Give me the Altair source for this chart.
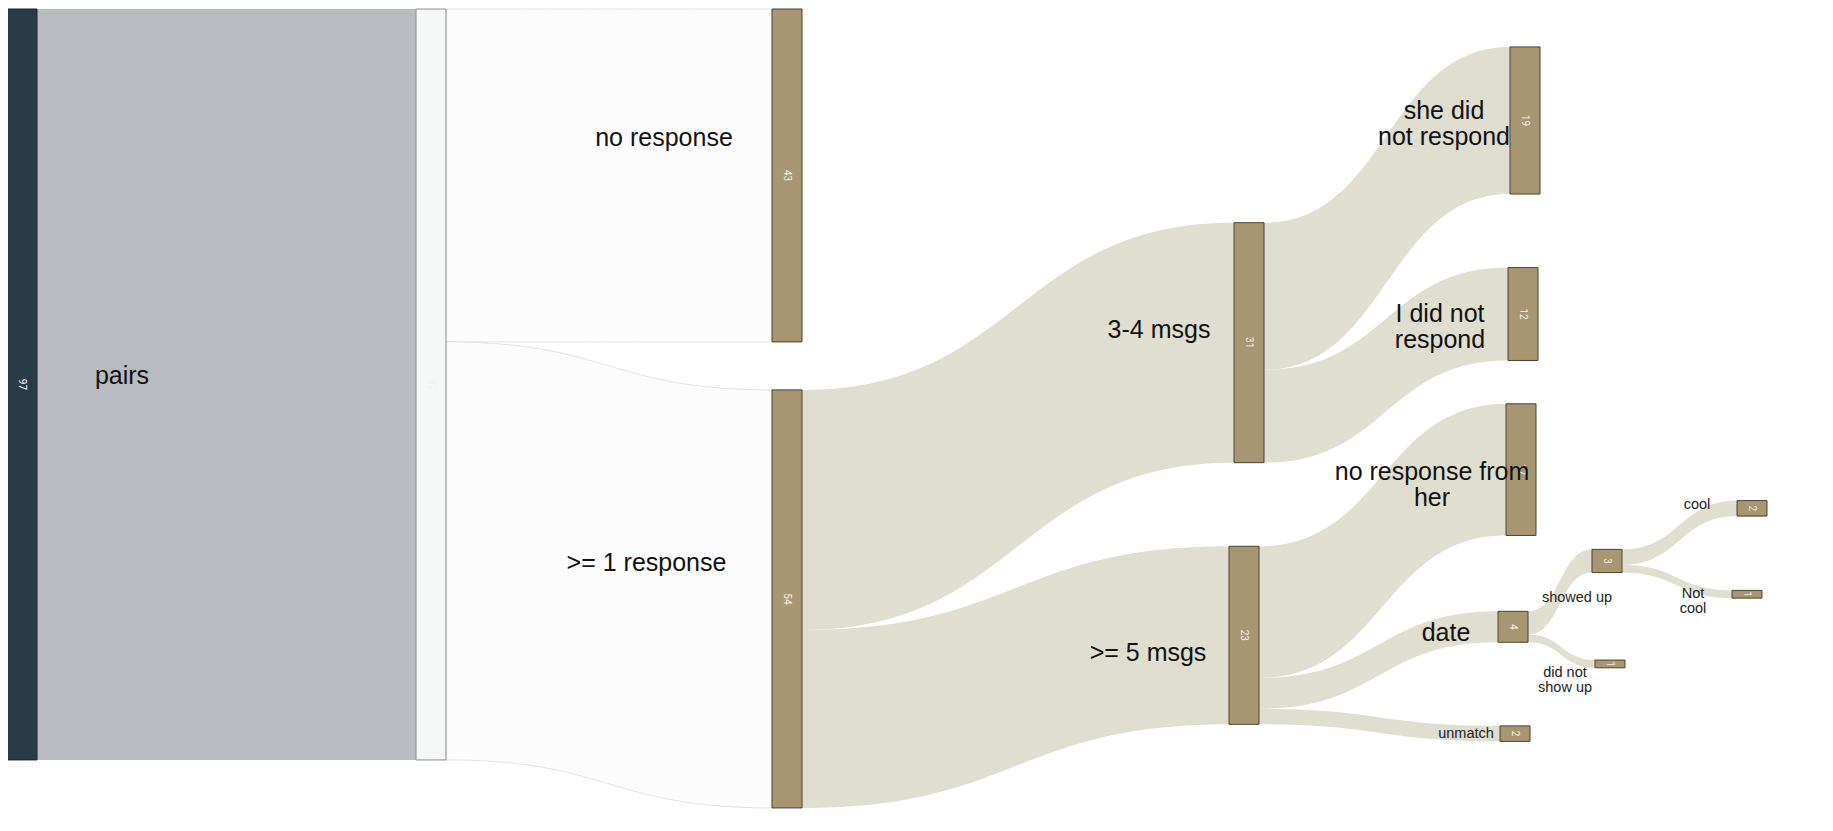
import altair as alt
import pandas as pd
import numpy as np

# ---------------- data ----------------
node_names = ["pairs", "matched", "no response", ">= 1 response", "3-4 msgs", ">= 5 msgs",
              "she did not respond", "I did not respond", "no response from her",
              "date", "unmatch", "showed up", "did not show up", "cool", "Not cool"]
node_labels = ["pairs", "", "no response", ">= 1 response", "3-4 msgs", ">= 5 msgs",
               "she did\nnot respond", "I did not\nrespond", "no response from\nher",
               "date", "unmatch", "showed up", "did not\nshow up", "cool", "Not\ncool"]

link_source = ["pairs", "matched", "matched", ">= 1 response", ">= 1 response",
               "3-4 msgs", "3-4 msgs", ">= 5 msgs", ">= 5 msgs", ">= 5 msgs",
               "date", "date", "showed up", "showed up"]
link_target = ["matched", "no response", ">= 1 response", "3-4 msgs", ">= 5 msgs",
               "she did not respond", "I did not respond", "no response from her",
               "date", "unmatch", "showed up", "did not show up", "cool", "Not cool"]
link_value = [97, 43, 54, 31, 23, 19, 12, 17, 4, 2, 3, 1, 2, 1]

# ---------------- layout (positions, not data) ----------------
node_x = [-1, 408, 764, 764, 1226, 1221, 1502, 1500, 1498, 1490, 1492, 1584, 1587, 1729, 1724]
node_top = [0, 0, 0, 49.2, 27.6, 69.4, 4.9, 33.4, 51.0, 77.8, 92.6, 69.8, 84.1, 63.5, 75.1]
NODE_W = 30
label_x = [114, None, 656, 638.5, 1151, 1140, 1436, 1432, 1424, 1438, 1458, 1569, 1557, 1689, 1685]
label_y = [47.46, None, 16.6, 71.6, 41.5, 83.2, 14.82, 41.07, 61.47, 80.55, 93.66, 76.13, 86.76, 64.05, 76.56]
big_label = [True, True, True, True, True, True, True, True, True, True, False, False, False, False, False]
BIG_FS, BIG_LH = 25, 26
SMALL_FS, SMALL_LH = 14.5, 15

# ---------------- styles ----------------
node_fill = {"pairs": "#2b3a47", "matched": "#f6f8f8"}
node_stroke = {"pairs": "#1c262f", "matched": "#8a8a8a"}
value_color = {"pairs": "#ffffff", "matched": "#eef0f0"}
DEF_FILL, DEF_STROKE, DEF_VAL = "#a69772", "#4a4030", "#f5f1e6"

W, H = 1810, 810
Y_DOMAIN = [-0.13, 104.5]
PX_PER_UNIT = H / (Y_DOMAIN[1] - Y_DOMAIN[0])

idx = {n: i for i, n in enumerate(node_names)}

# node values from links
node_val = []
for n in node_names:
    vin = sum(v for s, t, v in zip(link_source, link_target, link_value) if t == n)
    vout = sum(v for s, t, v in zip(link_source, link_target, link_value) if s == n)
    node_val.append(max(vin, vout))

nodes_df = pd.DataFrame({
    "name": node_names,
    "x": node_x,
    "x2": [x + NODE_W for x in node_x],
    "y": node_top,
    "y2": [t + v for t, v in zip(node_top, node_val)],
    "cx": [x + NODE_W / 2 for x in node_x],
    "cy": [t + v / 2 for t, v in zip(node_top, node_val)],
    "value": [str(v) for v in node_val],
    "fill": [node_fill.get(n, DEF_FILL) for n in node_names],
    "stroke": [node_stroke.get(n, DEF_STROKE) for n in node_names],
    "vcolor": [value_color.get(n, DEF_VAL) for n in node_names],
})


def bez(p0, p1, p2, p3, t):
    return (1 - t) ** 3 * p0 + 3 * (1 - t) ** 2 * t * p1 + 3 * (1 - t) * t ** 2 * p2 + t ** 3 * p3


out_off = {n: 0.0 for n in node_names}
in_off = {n: 0.0 for n in node_names}
rows = []
ts = np.linspace(0, 1, 80)
for li, (s, t, v) in enumerate(zip(link_source, link_target, link_value)):
    si, ti = idx[s], idx[t]
    x0 = node_x[si] + NODE_W
    x1 = node_x[ti]
    xm = (x0 + x1) / 2
    y0 = node_top[si] + out_off[s]
    y1 = node_top[ti] + in_off[t]
    out_off[s] += v
    in_off[t] += v
    if s == "pairs":
        fill, stroke, sw = "#b8bcc0", "#b8bcc0", 0
    elif s == "matched":
        fill, stroke, sw = "#fcfcfc", "#e2e2e2", 1
    else:
        fill, stroke, sw = "#e0ddd1", "#e0ddd1", 0
    for k, tt in enumerate(ts):
        rows.append({
            "link": li, "k": k,
            "x": bez(x0, xm, xm, x1, tt),
            "y": bez(y0, y0, y1, y1, tt),
            "y2": bez(y0 + v, y0 + v, y1 + v, y1 + v, tt),
            "fill": fill, "stroke": stroke, "sw": sw,
        })
links_df = pd.DataFrame(rows)

# labels: Vega puts the first line at y, so shift multi-line blocks up to centre them
lab_rows = []
for lab, lx, ly, b in zip(node_labels, label_x, label_y, big_label):
    if lx is None:
        continue
    n = lab.count("\n") + 1
    lh = BIG_LH if b else SMALL_LH
    lab_rows.append({"label": lab, "lx": lx,
                     "ly": ly - (n - 1) * lh / 2 / PX_PER_UNIT, "big": b})
labels_df = pd.DataFrame(lab_rows)

xs = alt.Scale(domain=[0, W], nice=False, zero=False)
ys = alt.Scale(domain=Y_DOMAIN, nice=False, zero=False, reverse=True)

links = alt.Chart(links_df).mark_area(interpolate="linear").encode(
    x=alt.X("x:Q", scale=xs, axis=None),
    y=alt.Y("y:Q", scale=ys, axis=None),
    y2="y2:Q",
    detail="link:N",
    fill=alt.Fill("fill:N", scale=None),
    stroke=alt.Stroke("stroke:N", scale=None),
    strokeWidth=alt.StrokeWidth("sw:Q", scale=None),
)

nodes = alt.Chart(nodes_df).mark_rect(strokeWidth=1).encode(
    x=alt.X("x:Q", scale=xs, axis=None),
    x2="x2:Q",
    y=alt.Y("y:Q", scale=ys, axis=None),
    y2="y2:Q",
    fill=alt.Fill("fill:N", scale=None),
    stroke=alt.Stroke("stroke:N", scale=None),
)

values = alt.Chart(nodes_df).mark_text(angle=90, fontSize=10, font="Roboto",
                                       align="center", baseline="middle").encode(
    x=alt.X("cx:Q", scale=xs, axis=None),
    y=alt.Y("cy:Q", scale=ys, axis=None),
    text="value:N",
    color=alt.Color("vcolor:N", scale=None),
)

big = alt.Chart(labels_df[labels_df["big"]]).mark_text(
    fontSize=BIG_FS, font="Liberation Sans", align="center", baseline="middle",
    lineBreak="\n", lineHeight=BIG_LH, color="#111111").encode(
    x=alt.X("lx:Q", scale=xs, axis=None),
    y=alt.Y("ly:Q", scale=ys, axis=None),
    text="label:N",
)

small = alt.Chart(labels_df[~labels_df["big"]]).mark_text(
    fontSize=SMALL_FS, font="Liberation Sans", align="center", baseline="middle",
    lineBreak="\n", lineHeight=SMALL_LH, color="#222222").encode(
    x=alt.X("lx:Q", scale=xs, axis=None),
    y=alt.Y("ly:Q", scale=ys, axis=None),
    text="label:N",
)

chart = alt.layer(links, nodes, values, big, small).properties(
    width=W, height=H, padding=0, background="white",
    autosize=alt.AutoSizeParams(type="none"),
).configure_view(stroke="transparent", strokeWidth=0)

chart.save("out.html", embed_options={"renderer": "svg", "actions": False})
